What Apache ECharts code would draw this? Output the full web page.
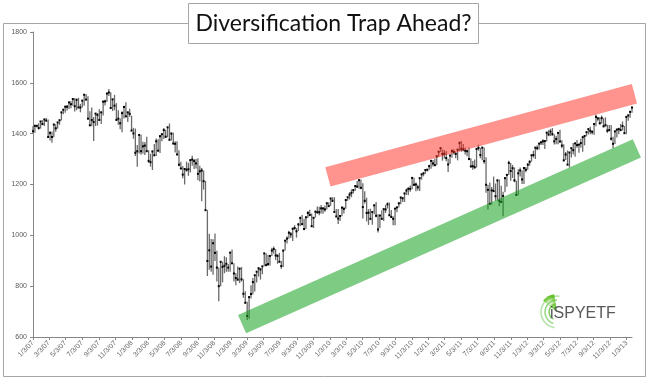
<!DOCTYPE html>
<html><head><meta charset="utf-8">
<script src="https://cdn.jsdelivr.net/npm/echarts@6/dist/echarts.min.js"></script>
<style>html,body{margin:0;padding:0;background:#fff}#c{width:650px;height:380px}</style>
</head><body><div id="c"></div>
<script>
const titleText = 'Diversification Trap Ahead?';
const logoText = 'iSPYETF';
const startDate = '2007-01-03';
const weekStepDays = 7;
// Weekly S&P 500 bars (high / low / close), one per week from 1/3/07 to late Jan 2013
const highs = [
1429,1431,1434,1441,1449,1453,1458,1462,1456,1410,1409,1437,1437,1444,1453,1484,1498,1510,1513,1522,1529,1540,1540,1538,1541,1517,1531,1555,1556,1547,1488,1503,1466,1480,1481,1496,1486,1530,1533,1559,1576,1563,1536,1553,1520,1492,1460,1488,1510,1524,1485,1498,1471,
1423,1420,1355,1396,1396,1368,1367,1388,1335,1321,1334,1359,1381,1378,1395,1399,1422,1415,1425,1440,1406,1404,1370,1370,1335,1290,1273,1262,1290,1285,1297,1313,1300,1300,1303,1274,1265,1255,1214,1100,1006,986,985,1007,939,873,896,896,918,914,887,934,
944,890,852,877,870,875,827,780,739,758,804,832,842,857,875,871,878,930,930,924,920,951,956,946,926,931,899,943,979,996,1018,1013,1027,1040,1029,1048,1074,1080,1065,1073,1096,1101,1086,1072,1097,1113,1112,1119,1110,1117,1129,1130,
1145,1150,1150,1104,1104,1078,1112,1112,1139,1151,1170,1181,1181,1194,1214,1217,1220,1205,1173,1148,1103,1105,1092,1121,1131,1083,1079,1099,1103,1120,1130,1129,1100,1075,1105,1110,1130,1148,1150,1167,1184,1189,1196,1227,1227,1208,1199,1225,1240,1247,1258,1262,
1278,1293,1296,1302,1311,1330,1344,1338,1336,1332,1301,1314,1338,1339,1330,1338,1364,1371,1359,1346,1337,1346,1303,1292,1298,1341,1357,1344,1347,1346,1307,1199,1208,1190,1231,1204,1220,1220,1195,1171,1224,1238,1293,1285,1277,1267,1215,1260,1267,1255,1265,1269,
1285,1296,1315,1333,1345,1354,1363,1368,1378,1372,1406,1414,1419,1422,1398,1392,1406,1415,1374,1358,1328,1334,1325,1344,1363,1362,1375,1357,1380,1390,1394,1405,1419,1427,1413,1438,1475,1466,1465,1471,1461,1464,1435,1434,1434,1388,1409,1419,1423,1438,1448,1430,1468,1472,1485,1503
];
const lows = [
1404,1404,1424,1416,1420,1433,1430,1449,1386,1373,1364,1386,1408,1420,1435,1452,1476,1482,1491,1497,1500,1510,1487,1492,1502,1484,1503,1510,1534,1458,1433,1429,1371,1430,1432,1451,1438,1471,1511,1525,1548,1500,1489,1492,1453,1435,1417,1406,1460,1467,1446,1467,1411,
1380,1312,1270,1322,1317,1321,1316,1330,1285,1270,1257,1312,1312,1331,1324,1370,1379,1384,1386,1373,1373,1359,1326,1317,1272,1260,1225,1200,1250,1234,1247,1274,1261,1263,1217,1212,1134,1180,1098,840,865,857,845,899,818,741,800,815,851,857,857,857,
888,818,804,821,812,818,754,731,667,672,751,767,779,814,838,826,847,878,878,879,881,919,928,903,888,896,869,875,940,968,987,990,978,1021,991,1017,1036,1041,1020,1025,1068,1075,1033,1029,1070,1085,1079,1086,1085,1093,1102,1114,
1116,1131,1090,1072,1045,1056,1075,1086,1105,1136,1141,1150,1165,1175,1186,1183,1181,1066,1125,1055,1041,1060,1042,1083,1071,1011,1028,1063,1056,1088,1106,1076,1069,1040,1040,1091,1110,1122,1131,1131,1159,1159,1171,1181,1194,1173,1176,1174,1219,1232,1242,1251,
1257,1262,1271,1275,1276,1309,1328,1294,1302,1291,1249,1282,1305,1318,1303,1295,1331,1329,1331,1318,1311,1297,1268,1258,1262,1267,1333,1303,1295,1282,1168,1102,1122,1121,1172,1136,1137,1114,1131,1075,1170,1191,1237,1215,1226,1209,1158,1158,1231,1202,1202,1248,
1258,1274,1290,1306,1300,1335,1338,1355,1355,1340,1369,1390,1391,1392,1357,1358,1358,1367,1343,1291,1296,1277,1267,1306,1318,1309,1345,1325,1345,1329,1354,1390,1397,1398,1397,1396,1429,1449,1436,1440,1425,1428,1403,1410,1373,1343,1359,1385,1398,1411,1413,1402,1398,1451,1463,1482
];
const closes = [
1410,1431,1431,1422,1448,1438,1456,1451,1387,1403,1387,1436,1421,1444,1453,1484,1494,1506,1506,1523,1516,1536,1508,1533,1503,1503,1530,1553,1534,1459,1433,1454,1446,1479,1474,1454,1484,1526,1527,1558,1562,1501,1535,1510,1454,1459,1441,1481,1505,1468,1484,1478,1412,
1401,1325,1331,1395,1331,1350,1353,1331,1293,1288,1330,1315,1370,1333,1390,1398,1414,1388,1425,1376,1400,1361,1360,1318,1278,1263,1239,1261,1258,1260,1296,1298,1292,1283,1242,1252,1255,1213,1099,899,941,877,969,931,873,800,896,876,880,888,873,932,
890,850,832,826,869,827,770,735,683,757,769,816,843,857,870,866,878,929,883,887,919,940,946,921,919,896,879,940,979,987,1010,1004,1026,1029,1016,1043,1068,1044,1025,1071,1088,1080,1036,1069,1093,1091,1091,1106,1106,1102,1126,1115,
1145,1136,1092,1074,1066,1076,1109,1104,1139,1150,1160,1167,1178,1194,1192,1217,1187,1111,1136,1088,1089,1065,1092,1118,1077,1023,1078,1065,1103,1102,1122,1079,1072,1065,1105,1110,1126,1149,1146,1165,1176,1183,1183,1226,1199,1200,1189,1225,1240,1244,1257,1258,
1272,1293,1283,1276,1311,1329,1343,1320,1321,1304,1279,1314,1332,1328,1320,1337,1364,1340,1338,1333,1331,1300,1271,1272,1268,1340,1344,1316,1345,1292,1199,1179,1124,1177,1174,1154,1216,1136,1131,1155,1225,1238,1285,1253,1264,1216,1159,1244,1255,1220,1265,1258,
1278,1289,1315,1316,1345,1343,1361,1366,1370,1371,1404,1397,1408,1398,1370,1379,1403,1369,1353,1295,1318,1278,1326,1343,1335,1362,1355,1357,1363,1386,1391,1406,1418,1411,1407,1438,1466,1460,1441,1461,1429,1433,1412,1414,1380,1360,1409,1416,1418,1414,1430,1402,1466,1472,1486,1503
];
const tickLabels = ['1/3/07','3/3/07','5/3/07','7/3/07','9/3/07','11/3/07',
'1/3/08','3/3/08','5/3/08','7/3/08','9/3/08','11/3/08',
'1/3/09','3/3/09','5/3/09','7/3/09','9/3/09','11/3/09',
'1/3/10','3/3/10','5/3/10','7/3/10','9/3/10','11/3/10',
'1/3/11','3/3/11','5/3/11','7/3/11','9/3/11','11/3/11',
'1/3/12','3/3/12','5/3/12','7/3/12','9/3/12','11/3/12','1/3/13'];
const yMin = 600, yMax = 1800, yStep = 200;
const redBandDates = ['2009-12-27', '2013-02-01'];
const redBandValues = [1230, 1557];
const greenBandDates = ['2009-02-13', '2013-02-10'];
const greenBandValues = [651, 1342];

const DAY = 86400000;
function utc(y, m, d) { return Date.UTC(y, m - 1, d); }
const t0 = (function(){ const p = startDate.split('-').map(Number); return utc(p[0], p[1], p[2]); })();
function dayOfIso(s) { const p = s.split('-').map(Number); return Math.round((utc(p[0], p[1], p[2]) - t0) / DAY); }
function dayOfLabel(s) { const p = s.split('/').map(Number); return Math.round((utc(2000 + p[2], p[0], p[1]) - t0) / DAY); }
const tickDays = tickLabels.map(dayOfLabel);
const bars = highs.map((h, i) => [i * weekStepDays, h, lows[i], closes[i]]);
const lastDay = (highs.length - 1) * weekStepDays;

const chart = echarts.init(document.getElementById('c'));
chart.setOption({
  animation: false,
  backgroundColor: '#fff',
  grid: { left: 33, right: 18, top: 32, bottom: 43 },
  xAxis: {
    type: 'value', min: 0, max: lastDay,
    splitLine: { show: false },
    axisLine: { lineStyle: { color: '#868686', width: 1 } },
    axisTick: { show: true, length: 3, customValues: tickDays, lineStyle: { color: '#868686' } },
    axisLabel: {
      customValues: tickDays, rotate: 45, fontSize: 7, color: '#6a6a6a', margin: 5,
      fontFamily: 'Liberation Sans',
      formatter: function (v) { const i = tickDays.indexOf(Math.round(v)); return i >= 0 ? tickLabels[i] : ''; }
    }
  },
  yAxis: {
    type: 'value', min: yMin, max: yMax, interval: yStep,
    splitLine: { show: false },
    axisLine: { show: true, lineStyle: { color: '#868686', width: 1 } },
    axisTick: { show: true, length: 3, lineStyle: { color: '#868686' } },
    axisLabel: { fontSize: 7, color: '#595959', margin: 6, fontFamily: 'Liberation Sans', formatter: function (v) { return String(v); } }
  },
  series: [
    {
      type: 'custom', data: bars, encode: { x: 0, y: [1, 2, 3] }, z: 2, silent: true,
      renderItem: function (params, api) {
        const x = api.value(0);
        const hi = api.coord([x, api.value(1)]);
        const lo = api.coord([x, api.value(2)]);
        const cl = api.coord([x, api.value(3)]);
        return { type: 'group', children: [
          { type: 'line', shape: { x1: hi[0], y1: hi[1], x2: lo[0], y2: lo[1] }, style: { stroke: '#6a6a6a', lineWidth: 1.3 } },
          { type: 'rect', shape: { x: cl[0] - 1, y: cl[1] - 1, width: 2, height: 2 }, style: { fill: '#000' } }
        ] };
      }
    },
    {
      type: 'line', silent: true, clip: false, symbol: 'none', z: 5,
      data: redBandDates.map((d, i) => [dayOfIso(d), redBandValues[i]]),
      lineStyle: { width: 20, color: 'rgba(255,40,30,0.5)', cap: 'butt' }
    },
    {
      type: 'line', silent: true, clip: false, symbol: 'none', z: 5,
      data: greenBandDates.map((d, i) => [dayOfIso(d), greenBandValues[i]]),
      lineStyle: { width: 20, color: 'rgba(20,160,30,0.55)', cap: 'butt' }
    }
  ],
  graphic: [
    { type: 'rect', z: 0, silent: true, shape: { x: 3.5, y: 23.5, width: 642, height: 353 }, style: { fill: 'none', stroke: '#A6A6A6', lineWidth: 1 } },
    { type: 'rect', z: 10, silent: true, shape: { x: 188.5, y: 3.5, width: 290, height: 40 }, style: { fill: '#fff', stroke: '#A6A6A6', lineWidth: 1 } },
    { type: 'text', z: 11, silent: true, x: 333.5, y: 24, style: { text: titleText, fontSize: 23, fontFamily: 'Lato', fill: '#111', align: 'center', verticalAlign: 'middle' } },
    { type: 'arc', z: 11, silent: true, shape: { cx: 557, cy: 312, r: 16, startAngle: Math.PI * 0.55, endAngle: Math.PI * 1.55 }, style: { stroke: '#b4e2a6', lineWidth: 1.5, fill: null } },
    { type: 'arc', z: 11, silent: true, shape: { cx: 557, cy: 312, r: 12, startAngle: Math.PI * 0.6, endAngle: Math.PI * 1.5 }, style: { stroke: '#9ad888', lineWidth: 1.5, fill: null } },
    { type: 'arc', z: 11, silent: true, shape: { cx: 557, cy: 312, r: 8, startAngle: Math.PI * 0.65, endAngle: Math.PI * 1.45 }, style: { stroke: '#80cc66', lineWidth: 1.5, fill: null } },
    { type: 'sector', z: 11, silent: true, shape: { cx: 557, cy: 312, r0: 0, r: 18, startAngle: Math.PI * 1.22, endAngle: Math.PI * 1.45 },
      style: { fill: new echarts.graphic.RadialGradient(0.5, 0.5, 0.5, [{ offset: 0, color: 'rgba(120,200,60,0.1)' }, { offset: 1, color: 'rgba(90,190,30,0.95)' }]) } },
    { type: 'text', z: 12, silent: true, x: 550, y: 314, style: { text: logoText, fontSize: 16, fontFamily: 'Liberation Sans', fill: '#58595b', verticalAlign: 'middle' } }
  ]
});
</script>
</body></html>
